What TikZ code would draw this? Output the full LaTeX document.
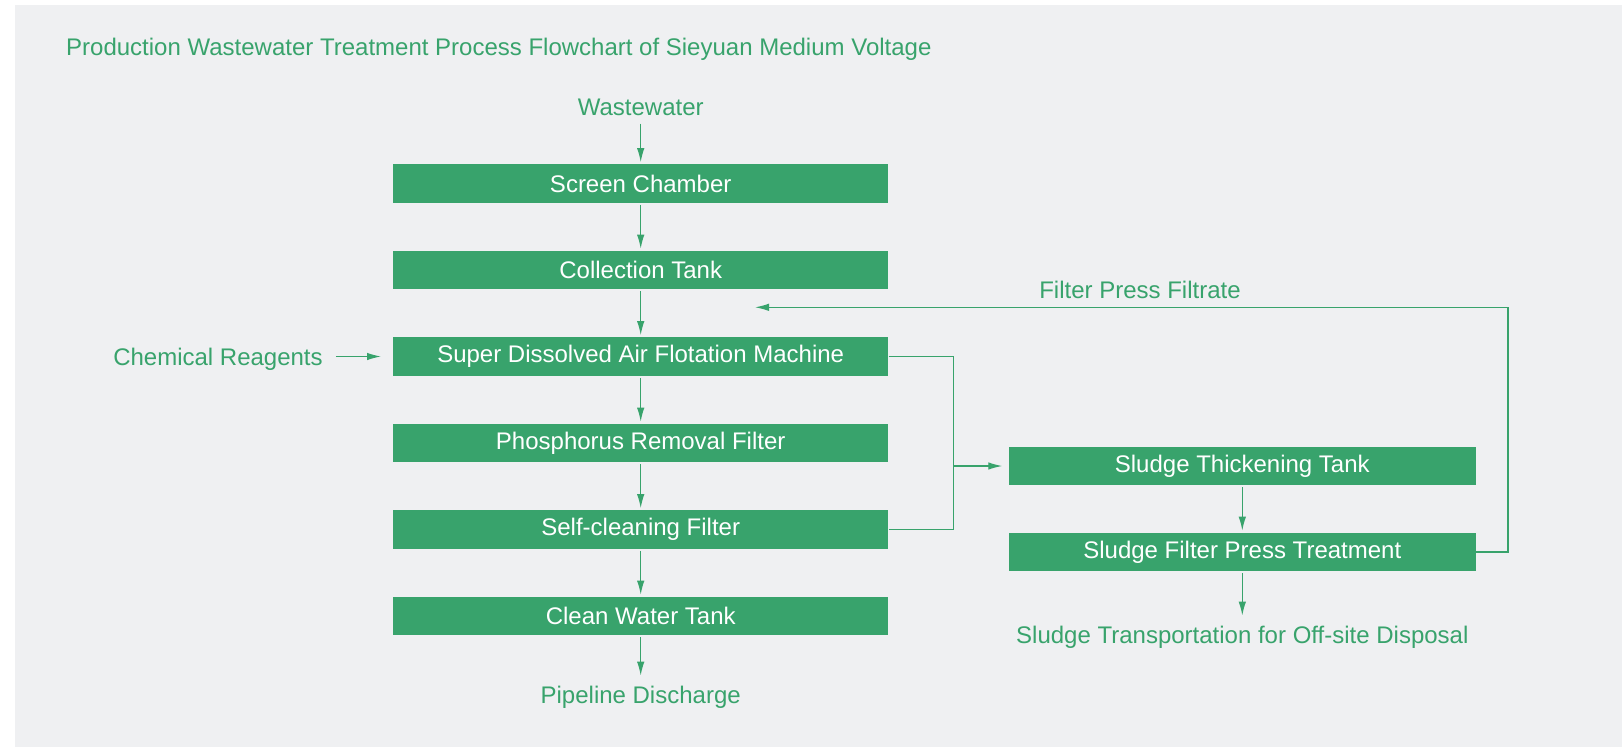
\documentclass[tikz,border=0pt]{standalone}
\usepackage{fontspec}
\setmainfont{Liberation Sans}
\usetikzlibrary{arrows.meta}
\definecolor{flowgreen}{RGB}{56,163,108}
\definecolor{panelgray}{RGB}{239,240,242}
\begin{document}
\begin{tikzpicture}[x=1pt,y=-1pt,
  box/.style={fill=flowgreen,text=white,minimum width=495.5pt,minimum height=38.3pt,inner sep=0pt,font=\fontsize{24}{28}\selectfont},
  sbox/.style={box,minimum width=467.6pt},
  lbl/.style={text=flowgreen,inner sep=0pt,font=\fontsize{24}{28}\selectfont},
  flow/.style={draw=flowgreen,line width=1.3pt,-{Latex[length=14pt,width=7.5pt]}},
  pipe/.style={draw=flowgreen,line width=1.3pt}]
  \useasboundingbox (0,0) rectangle (1622,747);
  \fill[panelgray] (15,5) rectangle (1622,747);
  \node[lbl,anchor=west] (title) at (66,49) {Production Wastewater Treatment Process Flowchart of Sieyuan Medium Voltage};
  \node[lbl] (ww) at (640.7,107) {Wastewater};
  \node[box] (screen) at (640.7,183.5) {Screen Chamber};
  \node[box] (collect) at (640.7,270) {Collection Tank};
  \node[box] (daf) at (640.7,356.5) {Super Dissolved Air Flotation Machine};
  \node[box] (phos) at (640.7,443) {Phosphorus Removal Filter};
  \node[box] (selfc) at (640.7,529.5) {Self-cleaning Filter};
  \node[box] (clean) at (640.7,616) {Clean Water Tank};
  \node[lbl] (pipeline) at (640.7,697) {Pipeline Discharge};
  \node[lbl] (chem) at (218,359) {Chemical Reagents};
  \node[sbox] (thick) at (1242.3,466) {Sludge Thickening Tank};
  \node[sbox] (press) at (1242.3,552) {Sludge Filter Press Treatment};
  \node[lbl] (trans) at (1242.3,637) {Sludge Transportation for Off-site Disposal};
  \node[lbl] (filtrate) at (1140,290) {Filter Press Filtrate};
  \coordinate (chemend) at (381,356.5);
  \coordinate (merge) at (953.7,466);
  \coordinate (back) at (755,307.3);
  % main line
  \draw[flow,shorten <=8pt,shorten >=2pt] (ww) -- (screen);
  \draw[flow,shorten <=2pt,shorten >=2pt] (screen) -- (collect);
  \draw[flow,shorten <=2pt,shorten >=2pt] (collect) -- (daf);
  \draw[flow,shorten <=2pt,shorten >=2pt] (daf) -- (phos);
  \draw[flow,shorten <=2pt,shorten >=2pt] (phos) -- (selfc);
  \draw[flow,shorten <=2pt,shorten >=2pt] (selfc) -- (clean);
  \draw[flow,shorten <=2pt,shorten >=10pt] (clean) -- (pipeline);
  \draw[flow,shorten <=13pt] (chem.east |- chemend) -- (chemend);
  % sludge side
  \draw[pipe] (daf.east) -| (merge) |- (selfc.east);
  \draw[flow,shorten >=6pt] (merge) -- (thick.west);
  \draw[flow,shorten <=2pt,shorten >=2pt] (thick) -- (press);
  \draw[flow,shorten <=2pt,shorten >=10pt] (press) -- (trans);
  \draw[flow] (press.east) -- ++(31.7,0) |- (back);
\end{tikzpicture}
\end{document}
